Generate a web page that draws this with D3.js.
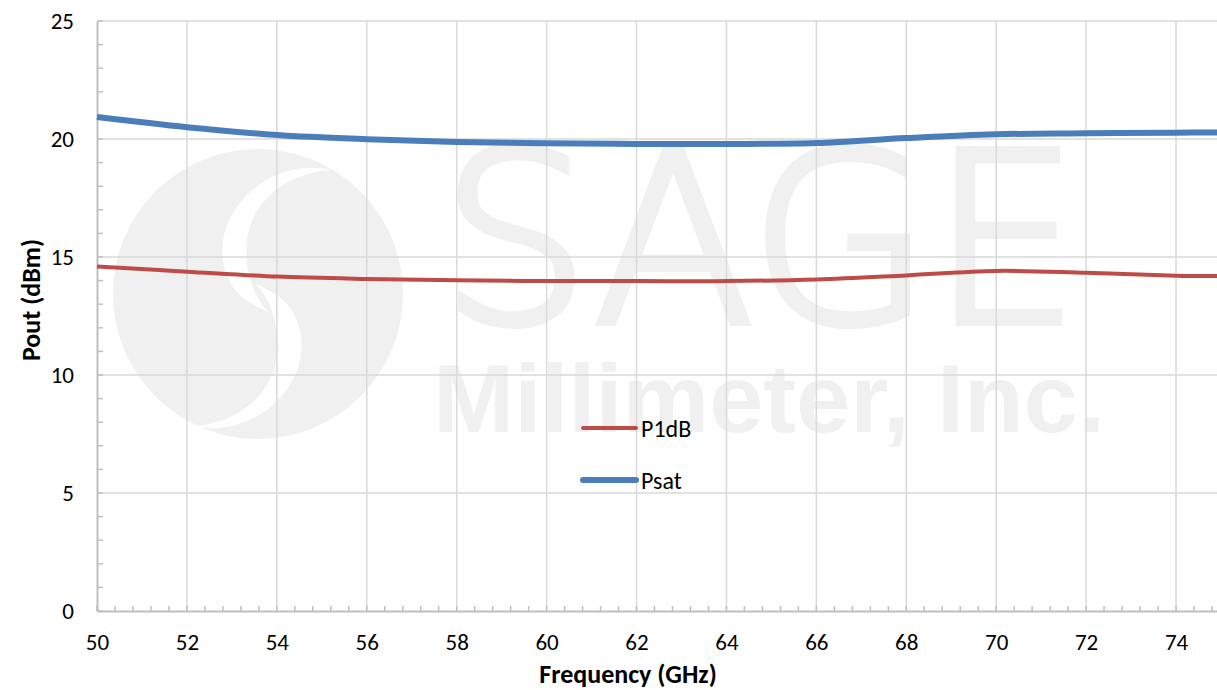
<!DOCTYPE html>
<html>
<head>
<meta charset="utf-8">
<script src="https://cdn.jsdelivr.net/npm/d3@7"></script>
<style>
  body { margin: 0; background: #fff; }
  text { font-family: Carlito, Calibri, "Open Sans", sans-serif; fill: #000; }
</style>
</head>
<body>
<div id="chart"></div>
<script>
// data
var freq = [50, 52, 54, 56, 58, 60, 62, 64, 66, 68, 70, 72, 74, 75];
var p1dB = [14.60, 14.38, 14.17, 14.07, 14.01, 13.98, 13.98, 13.98, 14.05, 14.22, 14.41, 14.33, 14.21, 14.19];
var psat = [20.93, 20.50, 20.17, 19.99, 19.87, 19.82, 19.79, 19.79, 19.83, 20.04, 20.20, 20.24, 20.27, 20.28];
var seriesNames = ["P1dB", "Psat"];
var xTicks = [50, 52, 54, 56, 58, 60, 62, 64, 66, 68, 70, 72, 74];
var yTicks = [0, 5, 10, 15, 20, 25];

var svgWidth = 1217;
var svgHeight = 690;
var margin = { top: 21, right: -4, bottom: 79, left: 97 };
var chartWidth = svgWidth - margin.left - margin.right;
var chartHeight = svgHeight - margin.top - margin.bottom;

var svg = d3.select("#chart")
    .append("svg")
    .attr("width", svgWidth)
    .attr("height", svgHeight);

// watermark (logo + company name) goes first so it sits behind the grid
var wm = svg.append("g").attr("fill", "#f0f0f0");
wm.append("circle").attr("cx", 258).attr("cy", 294).attr("r", 145);
var crescent = "M332,170 C268,156 212,212 224,266 C231,296 252,304 268,312 C250,292 243,262 248,234 C256,196 292,172 332,170 Z";
wm.append("path").attr("d", crescent).attr("fill", "#fff");
wm.append("path").attr("d", crescent).attr("fill", "#fff")
    .attr("transform", "rotate(180, 262, 298)");
wm.append("text")
    .attr("x", 441).attr("y", 322)
    .attr("textLength", 638).attr("lengthAdjust", "spacingAndGlyphs")
    .style("font-family", "'DejaVu Sans', sans-serif")
    .style("font-weight", 200)
    .style("font-size", "236px")
    .style("fill", "#f0f0f0")
    .style("stroke", "#f0f0f0")
    .style("stroke-width", 8)
    .text("SAGE");
wm.append("text")
    .attr("x", 433).attr("y", 432)
    .attr("textLength", 672).attr("lengthAdjust", "spacingAndGlyphs")
    .style("font-family", "'Liberation Sans', Arial, sans-serif")
    .style("font-weight", "bold")
    .style("font-size", "96px")
    .style("fill", "#f0f0f0")
    .text("Millimeter, Inc.");

var chartGroup = svg.append("g")
    .attr("transform", `translate(${margin.left}, ${margin.top})`);

var xScale = d3.scaleLinear().domain([50, 75]).range([0, chartWidth]);
var yScale = d3.scaleLinear().domain([0, 25]).range([chartHeight, 0]);

// gridlines
chartGroup.append("g")
    .selectAll("line")
    .data(yTicks.slice(1))
    .enter()
    .append("line")
    .attr("x1", 0).attr("x2", chartWidth)
    .attr("y1", d => yScale(d)).attr("y2", d => yScale(d))
    .attr("stroke", "#d9d9d9").attr("stroke-width", 1.5);

chartGroup.append("g")
    .selectAll("line")
    .data(xTicks.slice(1))
    .enter()
    .append("line")
    .attr("x1", d => xScale(d)).attr("x2", d => xScale(d))
    .attr("y1", 0).attr("y2", chartHeight)
    .attr("stroke", "#d9d9d9").attr("stroke-width", 1.5);

// minor ticks pointing inward
var xMinor = d3.range(50, 75.01, 0.4);
chartGroup.append("g")
    .selectAll("line")
    .data(xMinor)
    .enter()
    .append("line")
    .attr("x1", d => xScale(d)).attr("x2", d => xScale(d))
    .attr("y1", chartHeight).attr("y2", chartHeight - 5)
    .attr("stroke", "#bfbfbf").attr("stroke-width", 1.5);

var yMinor = d3.range(0, 25.01, 1);
chartGroup.append("g")
    .selectAll("line")
    .data(yMinor)
    .enter()
    .append("line")
    .attr("x1", 0).attr("x2", 6)
    .attr("y1", d => yScale(d)).attr("y2", d => yScale(d))
    .attr("stroke", "#bfbfbf").attr("stroke-width", 1.5);

// axes
var bottomAxis = d3.axisBottom(xScale).tickValues(xTicks).tickSize(0).tickPadding(23);
var leftAxis = d3.axisLeft(yScale).tickValues(yTicks).tickSize(0).tickPadding(23);

var xAxisG = chartGroup.append("g")
    .attr("transform", `translate(0, ${chartHeight})`)
    .call(bottomAxis);
var yAxisG = chartGroup.append("g").call(leftAxis);

[xAxisG, yAxisG].forEach(function(g) {
    g.select(".domain").attr("stroke", "#bfbfbf").attr("stroke-width", 2);
    g.selectAll("text").style("font-family", "Carlito, Calibri, 'Open Sans', sans-serif")
        .style("font-size", "23px").attr("fill", "#000");
});

// series lines
var lineGen = d3.line()
    .x((d, i) => xScale(freq[i]))
    .y(d => yScale(d))
    .curve(d3.curveCatmullRom.alpha(0.5));

chartGroup.append("path")
    .datum(p1dB)
    .attr("d", lineGen)
    .attr("fill", "none")
    .attr("stroke", "#be4b48")
    .attr("stroke-width", 4);

chartGroup.append("path")
    .datum(psat)
    .attr("d", lineGen)
    .attr("fill", "none")
    .attr("stroke", "#4a7ebb")
    .attr("stroke-width", 6);

// legend
var legendColors = ["#be4b48", "#4a7ebb"];
var legendWidths = [4, 6];
var legend = svg.append("g").attr("transform", "translate(583, 428)");
seriesNames.forEach(function(name, i) {
    legend.append("line")
        .attr("x1", 0).attr("x2", 53)
        .attr("y1", i * 52).attr("y2", i * 52)
        .attr("stroke", legendColors[i])
        .attr("stroke-width", legendWidths[i])
        .attr("stroke-linecap", "round");
    legend.append("text")
        .attr("x", 58).attr("y", i * 52 + 9)
        .style("font-size", "24px")
        .text(name);
});

// axis titles
svg.append("text")
    .attr("transform", "translate(40, 300) rotate(-90)")
    .attr("text-anchor", "middle")
    .style("font-size", "26px")
    .style("font-weight", "bold")
    .text("Pout (dBm)");

svg.append("text")
    .attr("x", 628).attr("y", 683)
    .attr("text-anchor", "middle")
    .style("font-size", "26px")
    .style("font-weight", "bold")
    .text("Frequency (GHz)");
</script>
</body>
</html>
